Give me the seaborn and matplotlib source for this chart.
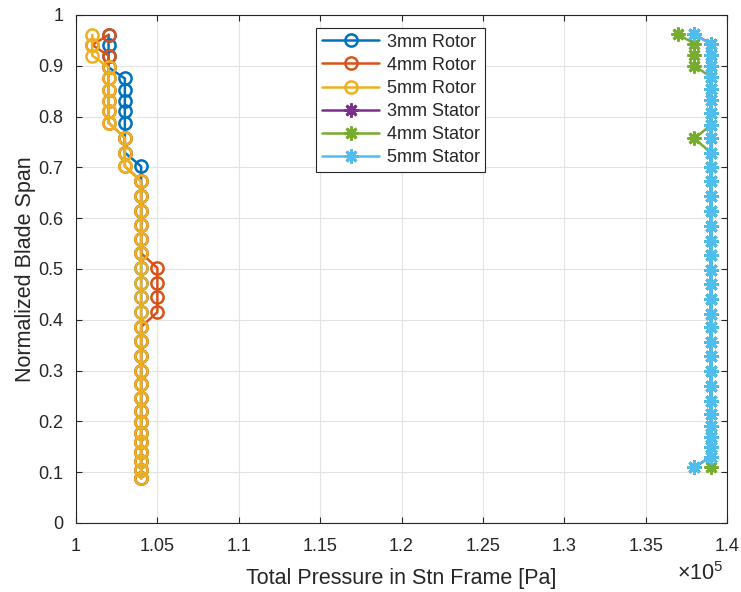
import numpy as np
import pandas as pd
import matplotlib
matplotlib.use("Agg")
import matplotlib.pyplot as plt
import seaborn as sns
from matplotlib.ticker import FuncFormatter, MultipleLocator

# ---------------- data ----------------
rotor_span = [0.961, 0.941, 0.920, 0.897, 0.875, 0.853, 0.831, 0.810, 0.788,
              0.758, 0.729, 0.702, 0.673, 0.644, 0.615, 0.587, 0.559, 0.531,
              0.502, 0.473, 0.444, 0.415, 0.386, 0.358, 0.329, 0.300, 0.273,
              0.246, 0.220, 0.198, 0.178, 0.159, 0.140, 0.122, 0.105, 0.088]

rotor_3mm = [102000, 102000, 102000, 102000, 103000, 103000, 103000, 103000, 103000,
             103000, 103000, 104000] + [104000] * 24
rotor_4mm = [102000, 101000, 102000, 102000, 102000, 102000, 102000, 102000, 102000,
             103000, 103000, 103000,
             104000, 104000, 104000, 104000, 104000, 104000,
             105000, 105000, 105000, 105000] + [104000] * 14
rotor_5mm = [101000, 101000, 101000, 102000, 102000, 102000, 102000, 102000, 102000,
             103000, 103000, 103000] + [104000] * 24

stator_span = [0.962, 0.943, 0.922, 0.900, 0.878, 0.855, 0.832, 0.808, 0.783,
               0.757, 0.729, 0.701, 0.673, 0.644, 0.614, 0.585, 0.556, 0.527,
               0.498, 0.470, 0.441, 0.412, 0.385, 0.356, 0.328, 0.300, 0.270,
               0.241, 0.215, 0.190, 0.169, 0.149, 0.130, 0.110]

stator_3mm = [138000] + [139000] * 32 + [138000]
stator_4mm = [137000, 138000, 138000, 138000, 139000, 139000, 139000, 139000, 139000,
              138000] + [139000] * 24
stator_5mm = [138000] + [139000] * 32 + [138000]

labels = ["3mm Rotor", "4mm Rotor", "5mm Rotor", "3mm Stator", "4mm Stator", "5mm Stator"]
colors = ["#0072BD", "#D95319", "#EDB120", "#7E2F8E", "#77AC30", "#4DBEEE"]

series = [
    (rotor_3mm, rotor_span, "o"),
    (rotor_4mm, rotor_span, "o"),
    (rotor_5mm, rotor_span, "o"),
    (stator_3mm, stator_span, (8, 2, 0)),
    (stator_4mm, stator_span, (8, 2, 0)),
    (stator_5mm, stator_span, (8, 2, 0)),
]

# ---------------- style ----------------
sns.set_theme(style="white")
plt.rcParams["font.family"] = ["Liberation Sans", "DejaVu Sans"]
plt.rcParams["mathtext.fontset"] = "custom"
plt.rcParams["mathtext.rm"] = "Liberation Sans"
plt.rcParams["mathtext.it"] = "Liberation Sans:italic"

axc = "#262626"
fig = plt.figure(figsize=(7.41, 5.92), dpi=100)
ax = fig.add_axes([0.1026, 0.1166, 0.8785, 0.8581])

for (xv, yv, mk), lab, col in zip(series, labels, colors):
    df = pd.DataFrame({"p": xv, "s": yv})
    is_circ = mk == "o"
    sns.lineplot(data=df, x="p", y="s", sort=False, estimator=None, ax=ax,
                 color=col, linewidth=1.8, marker=mk, markersize=8.8 if is_circ else 10,
                 markerfacecolor="none" if is_circ else col,
                 markeredgecolor=col, markeredgewidth=1.8 if is_circ else 2.0, label=lab)

ax.set_xlim(100000, 140000)
ax.set_ylim(0, 1)
ax.xaxis.set_major_locator(MultipleLocator(5000))
ax.yaxis.set_major_locator(MultipleLocator(0.1))
ax.xaxis.set_major_formatter(FuncFormatter(lambda v, p: f"{v/1e5:g}"))
ax.yaxis.set_major_formatter(FuncFormatter(lambda v, p: f"{round(v, 2):g}"))

ax.grid(True, color="#e3e3e3", linewidth=0.8)
ax.set_axisbelow(True)
for s in ax.spines.values():
    s.set_color(axc)
    s.set_linewidth(0.8)
    s.set_visible(True)
ax.tick_params(direction="in", length=4.5, width=0.8, color=axc, labelcolor=axc,
               labelsize=13, top=True, right=True, bottom=True, left=True)
ax.tick_params(axis="x", pad=11)
ax.tick_params(axis="y", pad=9)

ax.set_xlabel("Total Pressure in Stn Frame [Pa]", fontsize=15.5, color=axc, labelpad=9)
ax.set_ylabel("Normalized Blade Span", fontsize=15.5, color=axc, labelpad=2)

ax.text(0.995, -0.078, r"$\times10^{5}$", transform=ax.transAxes, ha="right", va="top",
        fontsize=15.5, color=axc)

leg = ax.legend(loc="upper left", bbox_to_anchor=(0.369, 0.974), borderaxespad=0,
                fontsize=13, handlelength=3.2, handletextpad=0.4, labelspacing=0.34,
                frameon=True, fancybox=False, framealpha=1, edgecolor=axc,
                borderpad=0.3, numpoints=1)
leg.get_frame().set_linewidth(0.8)

fig.savefig("out.png", dpi=100)
